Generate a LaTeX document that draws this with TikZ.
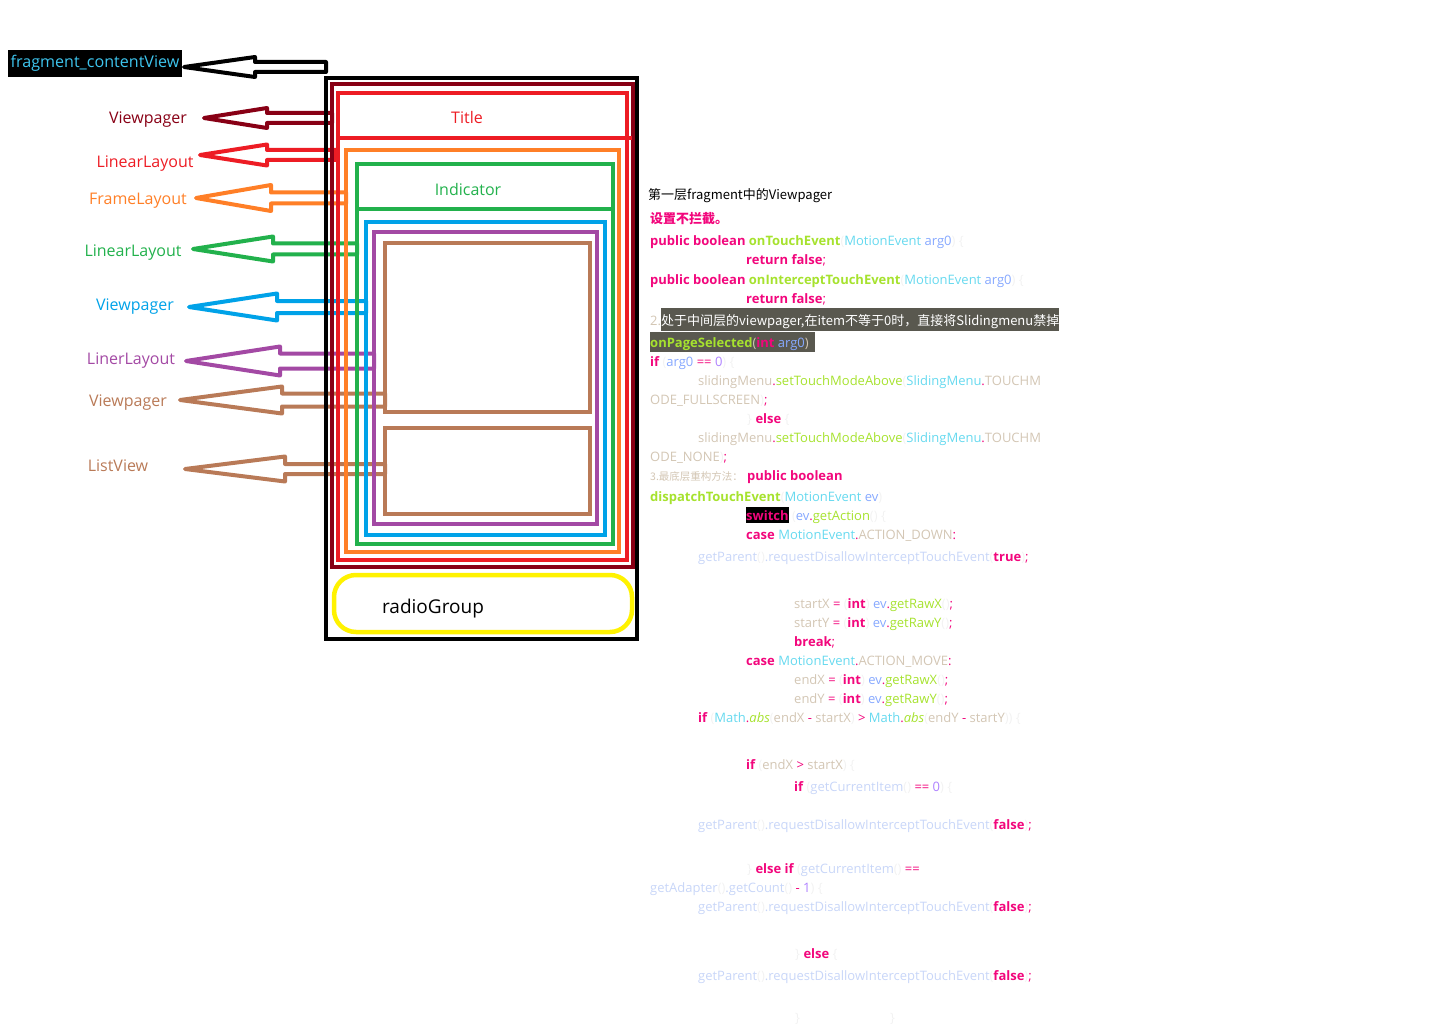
\documentclass[tikz,border=0pt]{standalone}
\usepackage{fontspec}
\setmainfont{Open Sans}
\newfontfamily\cjk{Noto Sans CJK SC}
\definecolor{cdr}{HTML}{880015}
\definecolor{cr}{HTML}{ED1C24}
\definecolor{co}{HTML}{FF7F27}
\definecolor{cg}{HTML}{22B14C}
\definecolor{cb}{HTML}{00A2E8}
\definecolor{cp}{HTML}{A349A4}
\definecolor{cbr}{HTML}{B97A57}
\definecolor{cy}{HTML}{FFF200}
\definecolor{ccyan}{HTML}{3EC5EE}
\definecolor{ckw}{HTML}{F2067C}
\definecolor{cfn}{HTML}{A6E22E}
\definecolor{cty}{HTML}{66D9EF}
\definecolor{car}{HTML}{86A8FF}
\definecolor{cpl}{HTML}{D3C6B4}
\definecolor{cnu}{HTML}{AE81FF}
\definecolor{cfa}{HTML}{F2F2F2}
\definecolor{cpa}{HTML}{C8D6F8}
\definecolor{cgraybg}{HTML}{59584F}
\def\zk#1{\textcolor{ckw}{\bfseries #1}}
\def\zkn#1{\textcolor{ckw}{#1}}
\def\zf#1{\textcolor{cfn}{#1}}
\def\zfb#1{\textcolor{cfn}{\bfseries #1}}
\def\zfi#1{\textcolor{cfn}{\itshape #1}}
\def\zt#1{\textcolor{cty}{#1}}
\def\za#1{\textcolor{car}{#1}}
\def\zl#1{\textcolor{cpl}{#1}}
\def\zn#1{\textcolor{cnu}{#1}}
\def\zx#1{\textcolor{cfa}{#1}}
\def\zb#1{\textcolor{cpa}{#1}}
\tikzset{
  box/.style={line width=4.5pt},
  harrow/.style={line width=4pt, line join=round},
  lbl/.style={inner sep=0pt, font=\fontsize{16}{19}\selectfont},
  code/.style={anchor=base west, inner sep=0pt, font=\fontsize{13}{15}\selectfont},
  cjkcode/.style={anchor=base west, inner sep=0pt, font={\cjk\fontsize{13}{15}\selectfont}},
}
% color, tip x, y, head x, head half, shaft half, end x, name
\newcommand\hollowarrow[8]{%
  \coordinate (#8) at (#2,#3);
  \draw[harrow, draw=#1] (#8) -- (#4,#3-#5) -- (#4,#3-#6) -- (#7,#3-#6)
    -- (#7,#3+#6) -- (#4,#3+#6) -- (#4,#3+#5) -- cycle;
}
\begin{document}
\begin{tikzpicture}[x=1pt,y=-1pt]
\useasboundingbox (0,0) rectangle (1433,1027);

% ---- hollow arrows ----
\hollowarrow{black}{184}{67}{255}{10}{5}{326}{t0}
\hollowarrow{cdr}{204}{118}{267}{10}{5}{332}{t1}
\hollowarrow{cr}{200}{155}{267}{10.5}{5}{336}{t2}
\hollowarrow{co}{196}{198}{271}{13}{5.5}{346}{t3}
\hollowarrow{cg}{193}{249}{273}{12.5}{5.5}{357}{t4}
\hollowarrow{cb}{189}{307}{277}{13.5}{6}{366}{t5}
\hollowarrow{cp}{186}{361}{280}{14.5}{7.5}{374}{t6}
\hollowarrow{cbr}{180}{400}{282}{13.5}{6.5}{385}{t7}
\hollowarrow{cbr}{185}{469}{285}{12.5}{5}{385}{t8}

% ---- nested boxes ----
\draw[box,black] (326,78) rectangle (637,639);
\draw[box,cdr] (332,84) rectangle (633,567);
\draw[box,cr] (338,93) rectangle (627,560);
\draw[box,cr] (338,138) -- (632,138);
\draw[box,co] (346,150) rectangle (619,552);
\draw[box,cg] (357,164) rectangle (613,544);
\draw[box,cg] (357,209) -- (613,209);
\draw[box,cb] (366,222) rectangle (605,535);
\draw[box,cp] (374,232) rectangle (597,524);
\draw[box,cbr] (385,243) rectangle (590,412);
\draw[box,cbr] (385,428) rectangle (590,514);
\draw[box,cy,rounded corners=22pt] (334,575) rectangle (632,632);

% ---- labels ----
\node[lbl, fill=black, text=ccyan, minimum width=174pt, minimum height=27pt, font=\fontsize{16.1}{19}\selectfont] (fcv) at (95,63.5) {fragment\_contentView};
\node[lbl,text=cdr] (vp1) at (148,120) {Viewpager};
\node[lbl,text=cr]  (ll1) at (145,164) {LinearLayout};
\node[lbl,text=co]  (fl)  at (138,201) {FrameLayout};
\node[lbl,text=cg]  (ll2) at (133,253) {LinearLayout};
\node[lbl,text=cb]  (vp2) at (135,307) {Viewpager};
\node[lbl,text=cp]  (ll3) at (131,361) {LinerLayout};
\node[lbl,text=cbr] (vp3) at (128,403) {Viewpager};
\node[lbl,text=cbr] (lv)  at (118,466) {ListView};
\node[lbl,text=cr]  (title) at (467,118) {Title};
\node[lbl,text=cg]  (ind) at (468,190) {Indicator};
\node[lbl,font=\fontsize{19}{22}\selectfont] (rg) at (433,609) {radioGroup};

% ---- code text ----
\fill[cgraybg] (661,308) rectangle (1059,331);
\fill[cgraybg] (650,332) rectangle (815,352);
\fill[black] (746,507) rectangle (789,523);

\node[cjkcode] (c1) at (648,200) {第一层fragment中的Viewpager};
\node[cjkcode,text=ckw] (c2) at (650,224) {\bfseries 设置不拦截。};
\node[code] (c3) at (650,246) {\zk{public boolean} \zk{\textcolor{cfn}{onTouchEvent}}\zx{(}\zt{MotionEvent} \za{arg0}\zx{) \{}};
\node[code] (c4) at (746,265) {\zk{return false}\zkn{;}};
\node[code] (c5) at (650,284) {\zk{public boolean} \zk{\textcolor{cfn}{onInterceptTouchEvent}}\zx{(}\zt{MotionEvent} \za{arg0}\zx{) \{}};
\node[code] (c6) at (746,303) {\zk{return false}\zkn{;}};
\node[code] (c7a) at (650,325) {\zl{2.}};
\node[cjkcode,text=white] (c7) at (661,325) {处于中间层的viewpager,在item不等于0时，直接将Slidingmenu禁掉};
\node[code] (c8) at (650,347) {\zfb{onPageSelected}\zl{(}\zk{int} \za{arg0}\zl{)}};
\node[code] (c9) at (650,366) {\zk{if} \zx{(}\za{arg0} \zkn{==} \zn{0}\zx{) \{}};
\node[code] (c10) at (698,385) {\zl{slidingMenu}\zkn{.}\zf{setTouchModeAbove}\zx{(}\zt{SlidingMenu}\zkn{.}\zl{TOUCHM}};
\node[code] (c11) at (650,404) {\zl{ODE\_FULLSCREEN}\zx{)}\zkn{;}};
\node[code] (c12) at (747,423) {\zx{\}} \zk{else} \zx{\{}};
\node[code] (c13) at (698,442) {\zl{slidingMenu}\zkn{.}\zf{setTouchModeAbove}\zx{(}\zt{SlidingMenu}\zkn{.}\zl{TOUCHM}};
\node[code] (c14) at (650,461) {\zl{ODE\_NONE}\zx{)}\zkn{;}};
\node[cjkcode,font={\cjk\fontsize{10.5}{12}\selectfont},text=cpl] (c15a) at (650,480) {3.最底层重构方法：};
\node[code] (c15) at (747,480) {\zk{public boolean}};
\node[code] (c16) at (650,501) {\zfb{dispatchTouchEvent}\zx{(}\zt{MotionEvent} \za{ev}\zx{)}};
\node[code] (c17) at (746,520) {\zk{switch} \zx{(}\za{ev}\zkn{.}\zf{getAction}\zx{() \{}};
\node[code] (c18) at (746,539) {\zk{case} \zt{MotionEvent}\zkn{.}\zl{ACTION\_DOWN}\zkn{:}};
\node[code] (c19) at (698,561) {\zb{getParent}\zx{()}\zb{.requestDisallowInterceptTouchEvent}\zx{(}\zk{true}\zx{)}\zkn{;}};
\node[code] (c20) at (794,608) {\zl{startX} \zkn{=} \zx{(}\zk{int}\zx{)} \za{ev}\zkn{.}\zf{getRawX}\zx{()}\zkn{;}};
\node[code] (c21) at (794,627) {\zl{startY} \zkn{=} \zx{(}\zk{int}\zx{)} \za{ev}\zkn{.}\zf{getRawY}\zx{()}\zkn{;}};
\node[code] (c22) at (794,646) {\zk{break}\zkn{;}};
\node[code] (c23) at (746,665) {\zk{case} \zt{MotionEvent}\zkn{.}\zl{ACTION\_MOVE}\zkn{:}};
\node[code] (c24) at (794,684) {\zl{endX} \zkn{=} \zx{(}\zk{int}\zx{)} \za{ev}\zkn{.}\zf{getRawX}\zx{()}\zkn{;}};
\node[code] (c25) at (794,703) {\zl{endY} \zkn{=} \zx{(}\zk{int}\zx{)} \za{ev}\zkn{.}\zf{getRawY}\zx{()}\zkn{;}};
\node[code] (c26) at (698,722) {\zk{if} \zx{(}\zt{Math}\zkn{.}\zfi{abs}\zx{(}\zl{endX} \zkn{-} \zl{startX}\zx{)} \zkn{>} \zt{Math}\zkn{.}\zfi{abs}\zx{(}\zl{endY} \zkn{-} \zl{startY}\zx{)) \{}};
\node[code] (c27) at (746,769) {\zk{if} \zx{(}\zl{endX} \zkn{>} \zl{startX}\zx{) \{}};
\node[code] (c28) at (794,791) {\zk{if} \zx{(}\zb{getCurrentItem}\zx{()} \zkn{==} \zn{0}\zx{) \{}};
\node[code] (c29) at (698,829) {\zb{getParent}\zx{()}\zb{.requestDisallowInterceptTouchEvent}\zx{(}\zk{false}\zx{)}\zkn{;}};
\node[code] (c30) at (747,873) {\zx{\}} \zk{else} \zk{if} \zx{(}\zb{getCurrentItem}\zx{()} \zkn{==}};
\node[code] (c31) at (650,892) {\zb{getAdapter}\zx{()}\zb{.getCount}\zx{()} \zkn{-} \zn{1}\zx{) \{}};
\node[code] (c32) at (698,911) {\zb{getParent}\zx{()}\zb{.requestDisallowInterceptTouchEvent}\zx{(}\zk{false}\zx{)}\zkn{;}};
\node[code] (c33) at (795,958) {\zx{\}} \zk{else} \zx{\{}};
\node[code] (c34) at (698,980) {\zb{getParent}\zx{()}\zb{.requestDisallowInterceptTouchEvent}\zx{(}\zk{false}\zx{)}\zkn{;}};
\node[code] (c35a) at (795,1022) {\zx{\}}};
\node[code] (c35b) at (890,1022) {\zx{\}}};
\end{tikzpicture}
\end{document}
